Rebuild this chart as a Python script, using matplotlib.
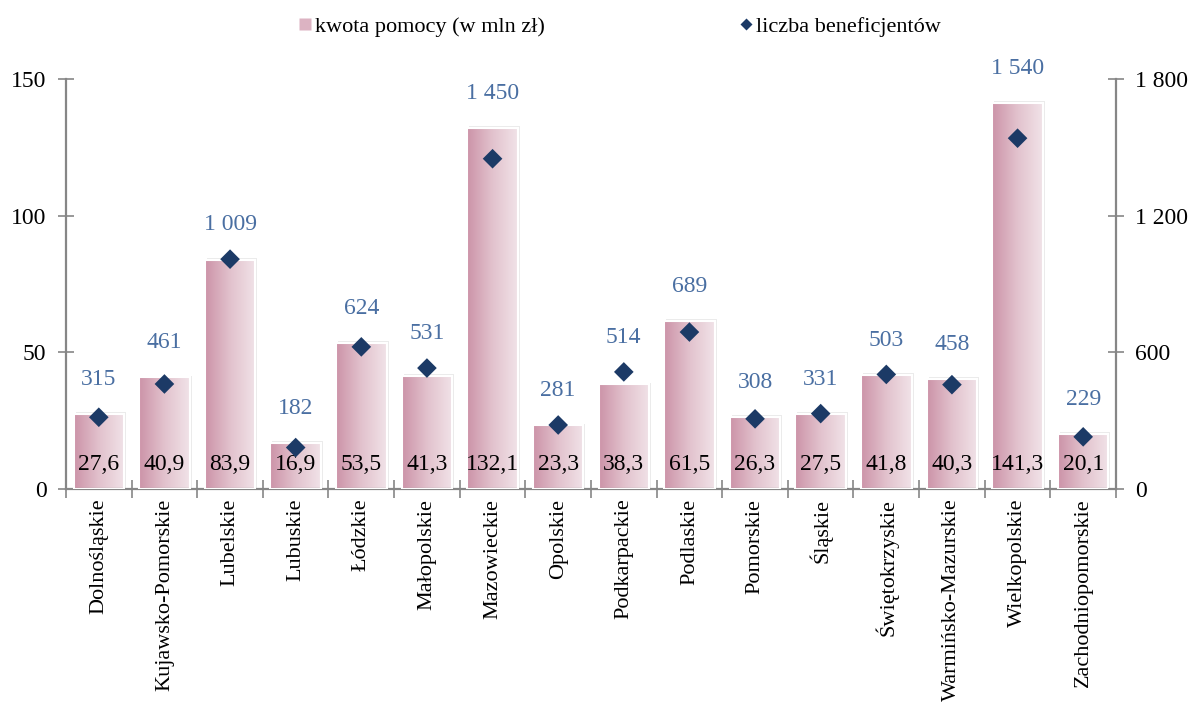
import numpy as np
import matplotlib
matplotlib.use("Agg")
import matplotlib.pyplot as plt
from matplotlib.colors import LinearSegmentedColormap
from matplotlib.patches import Rectangle
from matplotlib.lines import Line2D

plt.rcParams.update({
    "font.family": ["Liberation Serif", "DejaVu Serif"],
    "font.size": 15,
})

# ── Data ──────────────────────────────────────────────────────────────────────
regions = ["Dolnośląskie", "Kujawsko-Pomorskie", "Lubelskie", "Lubuskie", "Łódzkie",
           "Małopolskie", "Mazowieckie", "Opolskie", "Podkarpackie", "Podlaskie",
           "Pomorskie", "Śląskie", "Świętokrzyskie", "Warmińsko-Mazurskie",
           "Wielkopolskie", "Zachodniopomorskie"]
kwota = [27.6, 40.9, 83.9, 16.9, 53.5, 41.3, 132.1, 23.3, 38.3, 61.5,
         26.3, 27.5, 41.8, 40.3, 141.3, 20.1]
beneficjenci = [315, 461, 1009, 182, 624, 531, 1450, 281, 514, 689,
                308, 331, 503, 458, 1540, 229]

AXIS_GRAY = "#868686"
DIAMOND = "#1c3a66"
LABEL_BLUE = "#4a6fa2"
bar_cmap = LinearSegmentedColormap.from_list("pinkgrad", ["#cc93a8", "#e2c2cd", "#f1e3e8"])

def fmt_pl(v):
    return f"{v:,.0f}".replace(",", " ")

# ── Plot ──────────────────────────────────────────────────────────────────────
fig = plt.figure(figsize=(11.89, 7.09), dpi=100)
ax = fig.add_axes([0.0555, 0.3103, 0.8831, 0.5783])
ax2 = ax.twinx()

x = np.arange(len(regions))
width = 0.77
grad = np.linspace(0, 1, 256).reshape(1, -1)

for xi, v in zip(x, kwota):
    left = xi - width / 2
    # soft shadow
    ax.add_patch(Rectangle((left + 0.03, 0), width, v + 0.6, facecolor="#d9d9d9",
                           edgecolor="none", alpha=0.5, zorder=1))
    im = ax.imshow(grad, cmap=bar_cmap, aspect="auto",
                   extent=(left, left + width, 0, v), zorder=2)
    rect = Rectangle((left, 0), width, v, facecolor="none", edgecolor="white",
                     lw=1.5, zorder=3)
    ax.add_patch(rect)
    im.set_clip_path(rect)
    ax.text(xi, 5, f"{v:.1f}".replace(".", ","), ha="center", va="bottom",
            fontsize=17, color="black", zorder=5)

ax.set_xlim(-0.5, len(regions) - 0.5)
ax.set_ylim(0, 150)
ax2.set_ylim(0, 1800)

ax2.scatter(x, beneficjenci, marker="D", s=100, color=DIAMOND, zorder=6,
            edgecolors="none")

# labels above the higher of bar top / diamond
for xi, kv, bv in zip(x, kwota, beneficjenci):
    top = max(kv * 12, bv)
    ax2.text(xi, top + 105, fmt_pl(bv), ha="center", va="bottom",
             fontsize=17, color=LABEL_BLUE, zorder=7)

ax.set_yticks([0, 50, 100, 150])
ax2.set_yticks([0, 600, 1200, 1800])
ax2.set_yticklabels([fmt_pl(t) for t in [0, 600, 1200, 1800]])

ax.set_xticks(x)
ax.set_xticklabels(regions, rotation=90, fontsize=16)
ax.tick_params(axis="x", length=0, pad=7)
# category separator ticks
ax.set_xticks(np.arange(-0.5, len(regions)), minor=True)
ax.tick_params(axis="x", which="minor", direction="inout", length=13,
               color=AXIS_GRAY, width=1.2)
ax.tick_params(axis="y", direction="inout", length=12, color=AXIS_GRAY,
               width=1.2, labelsize=17, pad=8)
ax2.tick_params(axis="y", direction="inout", length=12, color=AXIS_GRAY,
                width=1.2, labelsize=17, pad=8)

for a in (ax, ax2):
    a.spines["top"].set_visible(False)
    for s in ("left", "right", "bottom"):
        a.spines[s].set_color(AXIS_GRAY)
        a.spines[s].set_linewidth(1.6)
ax.spines["right"].set_visible(False)
ax2.spines["left"].set_visible(False)
ax2.spines["bottom"].set_visible(False)
ax.set_zorder(1)
ax2.set_zorder(2)
ax2.patch.set_visible(False)

# ── Legend ────────────────────────────────────────────────────────────────────
h_bar = Line2D([], [], marker="s", ls="none", markersize=9, markerfacecolor="#dcb3c2",
               markeredgecolor="none")
h_dia = Line2D([], [], marker="D", ls="none", markersize=6, markerfacecolor=DIAMOND,
               markeredgecolor="none")
for h, lab, xa in [(h_bar, "kwota pomocy (w mln zł)", 0.249),
                   (h_dia, "liczba beneficjentów", 0.620)]:
    fig.legend([h], [lab], loc="center left", bbox_to_anchor=(xa, 0.963),
               frameon=False, fontsize=16, handletextpad=0.05, handlelength=0.8,
               borderpad=0, borderaxespad=0)

fig.savefig("out.png", dpi=100)
plt.close(fig)
